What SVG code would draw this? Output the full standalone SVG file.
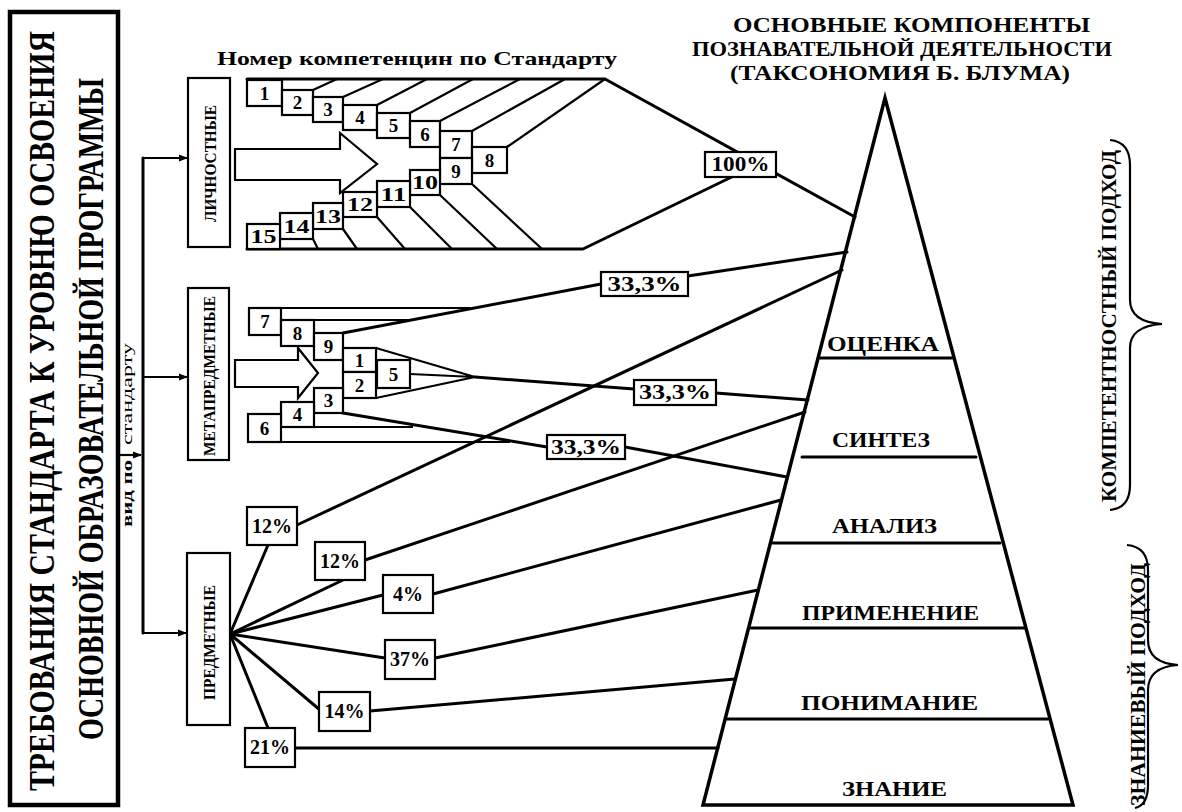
<svg xmlns="http://www.w3.org/2000/svg" width="1182" height="812" viewBox="0 0 1182 812">
<defs>
<marker id="ah" markerWidth="9" markerHeight="8" refX="8" refY="4" orient="auto" markerUnits="userSpaceOnUse"><path d="M0,0.5 L9,4 L0,7.5 z" fill="#000"/></marker>
<style>
.ln{stroke:#000;stroke-width:3;fill:none;stroke-linecap:round;stroke-linejoin:round}
.ln2{stroke:#000;stroke-width:2.2;fill:none}
.bx{fill:#fff;stroke:#000;stroke-width:2.2}
.t{font-family:'Liberation Serif','Times New Roman',serif;font-weight:bold;fill:#000}
.num{font-size:19px;text-anchor:middle}
.pct{font-size:20px;text-anchor:middle}
.lvl{font-size:20px}
</style>
</defs>
<rect width="1182" height="812" fill="#fff"/>

<g id="connectors">
  <path class="ln2" d="M120,455 H141" marker-end="url(#ah)"/>
  <path class="ln" d="M143,158 V633"/>
  <path class="ln2" d="M143,158 H187" marker-end="url(#ah)"/>
  <path class="ln2" d="M143,377 H187" marker-end="url(#ah)"/>
  <path class="ln2" d="M143,633 H186" marker-end="url(#ah)"/>

  <path class="ln" d="M247,79 H605 L855,217"/>
  <path class="ln" d="M247,249 H583 L742,172"/>
  <path class="ln2" d="M313,90 L337,79 M343,97 L383,79 M377,105 L427,79 M410,113 L473,79 M440,121 L520,79 M472,131 L565,79 M507,147 L605,79"/>
  <path class="ln2" d="M313,239 L318,249 M343,229 L357,249 M377,217 L405,249 M410,207 L452,249 M440,195 L497,249 M472,184 L542,249"/>

  <path class="ln2" d="M249,308 H470"/>
  <path class="ln2" d="M314,320 H413"/>
  <path class="ln2" d="M314,427 H413"/>
  <path class="ln2" d="M248,442 H510"/>
  <path class="ln" d="M343,333 L601,284 L688,276 L847,252"/>
  <path class="ln" d="M343,413 L547,447 L625,447 L787,477"/>
  <path class="ln2" d="M376,348 L475,377 L376,398 M410,374 L475,377"/>
  <path class="ln" d="M475,377 L634,389 L716,393 L808,400"/>

  <path class="ln" d="M230,634 L268,545 M297,525 L842,270"/>
  <path class="ln" d="M230,634 L343,580 M365,560 L805,412"/>
  <path class="ln" d="M230,634 L383,595 M433,594 L781,500"/>
  <path class="ln" d="M230,634 L385,658 M435,658 L758,590"/>
  <path class="ln" d="M230,634 L320,710 M370,711 L735,679"/>
  <path class="ln" d="M230,634 L268,728 M295,748 L718,748"/>

  <path class="ln2" d="M1110,140 Q1130,142 1130,165 L1130,300 Q1130,322 1162,324 Q1130,326 1130,348 L1130,485 Q1130,508 1110,510"/>
  <path class="ln2" d="M1127,545 Q1148,547 1148,570 L1148,640 Q1148,663 1178,665 Q1148,667 1148,690 L1148,785 Q1148,805 1135,808"/>
</g>

<g id="req">
  <rect x="10" y="12" width="108" height="793" fill="#fff" stroke="#000" stroke-width="4.5"/>
  <text class="t" font-size="30" transform="translate(54,791) rotate(-90) scale(1,1.2)" textLength="760" lengthAdjust="spacingAndGlyphs">ТРЕБОВАНИЯ СТАНДАРТА К УРОВНЮ ОСВОЕНИЯ</text>
  <text class="t" font-size="30" transform="translate(103,740) rotate(-90) scale(1,1.2)" textLength="662" lengthAdjust="spacingAndGlyphs">ОСНОВНОЙ ОБРАЗОВАТЕЛЬНОЙ ПРОГРАММЫ</text>
</g>

<g id="vid">
  <text class="t" font-size="14" transform="translate(132,527) rotate(-90)" textLength="67" lengthAdjust="spacingAndGlyphs">вид по</text>
  <text class="t" font-size="14" style="font-weight:normal" transform="translate(132,445) rotate(-90)" textLength="102" lengthAdjust="spacingAndGlyphs">стандарту</text>
</g>

<g id="lichn">
  <rect class="bx" x="188" y="78" width="42" height="169"/>
  <text class="t" font-size="17" transform="translate(216,222) rotate(-90)" textLength="117" lengthAdjust="spacingAndGlyphs">ЛИЧНОСТНЫЕ</text>
</g>
<g id="meta">
  <rect class="bx" x="188" y="288" width="41" height="172"/>
  <text class="t" font-size="17" transform="translate(215,456) rotate(-90)" textLength="160" lengthAdjust="spacingAndGlyphs">МЕТАПРЕДМЕТНЫЕ</text>
</g>
<g id="predm">
  <rect class="bx" x="187" y="553" width="43" height="172"/>
  <text class="t" font-size="17" transform="translate(215,700) rotate(-90)" textLength="115" lengthAdjust="spacingAndGlyphs">ПРЕДМЕТНЫЕ</text>
</g>

<text class="t" font-size="19" x="217" y="65" textLength="400" lengthAdjust="spacingAndGlyphs">Номер компетенцин по Стандарту</text>

<g id="lichn-arrow">
  <polygon class="bx" points="235,149 340,149 340,133 377,164 340,193 340,180 235,180"/>
</g>
<g id="lichn-items">
  <rect class="bx" x="247" y="80" width="35" height="26"/><text class="t num" x="264.5" y="100">1</text>
  <rect class="bx" x="282" y="90" width="31" height="25"/><text class="t num" x="297.5" y="109">2</text>
  <rect class="bx" x="313" y="97" width="30" height="25"/><text class="t num" x="328" y="116">3</text>
  <rect class="bx" x="343" y="105" width="34" height="25"/><text class="t num" x="360" y="124">4</text>
  <rect class="bx" x="377" y="113" width="33" height="25"/><text class="t num" x="393.5" y="132">5</text>
  <rect class="bx" x="410" y="121" width="30" height="26"/><text class="t num" x="425" y="141">6</text>
  <rect class="bx" x="440" y="131" width="32" height="27"/><text class="t num" x="456" y="151">7</text>
  <rect class="bx" x="472" y="147" width="35" height="26"/><text class="t num" x="489.5" y="167">8</text>
  <rect class="bx" x="440" y="158" width="32" height="26"/><text class="t num" x="456" y="178">9</text>
  <rect class="bx" x="410" y="170" width="30" height="25"/><text class="t num" x="425" y="189" textLength="26" lengthAdjust="spacingAndGlyphs">10</text>
  <rect class="bx" x="377" y="181" width="33" height="26"/><text class="t num" x="393.5" y="201" textLength="26" lengthAdjust="spacingAndGlyphs">11</text>
  <rect class="bx" x="343" y="192" width="34" height="25"/><text class="t num" x="360" y="211" textLength="26" lengthAdjust="spacingAndGlyphs">12</text>
  <rect class="bx" x="313" y="203" width="30" height="26"/><text class="t num" x="328" y="223" textLength="26" lengthAdjust="spacingAndGlyphs">13</text>
  <rect class="bx" x="280" y="213" width="33" height="26"/><text class="t num" x="296.5" y="233" textLength="26" lengthAdjust="spacingAndGlyphs">14</text>
  <rect class="bx" x="247" y="224" width="33" height="25"/><text class="t num" x="263.5" y="243" textLength="26" lengthAdjust="spacingAndGlyphs">15</text>
</g>

<g id="meta-arrow">
  <polygon class="bx" points="235,360 298,360 298,348 318,373 298,398 298,387 235,387"/>
</g>
<g id="meta-items">
  <rect class="bx" x="249" y="308" width="32" height="27"/><text class="t num" x="265" y="328">7</text>
  <rect class="bx" x="281" y="320" width="33" height="26"/><text class="t num" x="297.5" y="340">8</text>
  <rect class="bx" x="314" y="333" width="29" height="27"/><text class="t num" x="328.5" y="353">9</text>
  <rect class="bx" x="343" y="348" width="33" height="24"/><text class="t num" x="359.5" y="367">1</text>
  <rect class="bx" x="343" y="372" width="33" height="26"/><text class="t num" x="359.5" y="392">2</text>
  <rect class="bx" x="377" y="360" width="33" height="28"/><text class="t num" x="393.5" y="381">5</text>
  <rect class="bx" x="314" y="388" width="29" height="25"/><text class="t num" x="328.5" y="407">3</text>
  <rect class="bx" x="281" y="402" width="33" height="25"/><text class="t num" x="297.5" y="421">4</text>
  <rect class="bx" x="248" y="414" width="33" height="28"/><text class="t num" x="264.5" y="435">6</text>
</g>

<g id="pcts">
  <rect class="bx" x="705" y="152" width="71" height="25"/><text class="t pct" x="740.5" y="171" textLength="58" lengthAdjust="spacingAndGlyphs">100%</text>
  <rect class="bx" x="601" y="272" width="87" height="24"/><text class="t pct" x="644.5" y="291" textLength="74" lengthAdjust="spacingAndGlyphs">33,3%</text>
  <rect class="bx" x="634" y="380" width="82" height="25"/><text class="t pct" x="675" y="399" textLength="72" lengthAdjust="spacingAndGlyphs">33,3%</text>
  <rect class="bx" x="547" y="435" width="78" height="24"/><text class="t pct" x="586" y="454" textLength="70" lengthAdjust="spacingAndGlyphs">33,3%</text>
  <rect class="bx" x="247" y="507" width="50" height="38"/><text class="t pct" x="272" y="533">12%</text>
  <rect class="bx" x="315" y="542" width="50" height="38"/><text class="t pct" x="340" y="568">12%</text>
  <rect class="bx" x="383" y="575" width="50" height="38"/><text class="t pct" x="408" y="601">4%</text>
  <rect class="bx" x="385" y="640" width="50" height="39"/><text class="t pct" x="410" y="666">37%</text>
  <rect class="bx" x="319" y="692" width="51" height="39"/><text class="t pct" x="344.5" y="718">14%</text>
  <rect class="bx" x="245" y="728" width="50" height="39"/><text class="t pct" x="270" y="754">21%</text>
</g>

<g id="title">
  <text class="t" font-size="21" x="733" y="32" textLength="357" lengthAdjust="spacingAndGlyphs">ОСНОВНЫЕ КОМПОНЕНТЫ</text>
  <text class="t" font-size="21" x="692" y="56" textLength="420" lengthAdjust="spacingAndGlyphs">ПОЗНАВАТЕЛЬНОЙ ДЕЯТЕЛЬНОСТИ</text>
  <text class="t" font-size="21" x="730" y="80" textLength="340" lengthAdjust="spacingAndGlyphs">(ТАКСОНОМИЯ Б. БЛУМА)</text>
</g>

<g id="pyramid">
  <polygon points="885,98 703,805 1073,805" fill="none" stroke="#000" stroke-width="3.5" stroke-linejoin="miter"/>
  <path class="ln" d="M820,358 H952 M802,457 H976 M773,543 H1000 M751,628 H1025 M727,719 H1048"/>
  <text class="t lvl" x="827" y="351" textLength="112" lengthAdjust="spacingAndGlyphs">ОЦЕНКА</text>
  <text class="t lvl" x="832" y="447" textLength="98" lengthAdjust="spacingAndGlyphs">СИНТЕЗ</text>
  <text class="t lvl" x="832" y="533" textLength="105" lengthAdjust="spacingAndGlyphs">АНАЛИЗ</text>
  <text class="t lvl" x="802" y="620" textLength="177" lengthAdjust="spacingAndGlyphs">ПРИМЕНЕНИЕ</text>
  <text class="t lvl" x="801" y="710" textLength="177" lengthAdjust="spacingAndGlyphs">ПОНИМАНИЕ</text>
  <text class="t lvl" x="842" y="796" textLength="105" lengthAdjust="spacingAndGlyphs">ЗНАНИЕ</text>
</g>

<g id="approach">
  <text class="t" font-size="20" transform="translate(1116,502) rotate(-90)" textLength="352" lengthAdjust="spacingAndGlyphs">КОМПЕТЕНТНОСТНЫЙ ПОДХОД</text>
  <text class="t" font-size="20" transform="translate(1145,806) rotate(-90)" textLength="243" lengthAdjust="spacingAndGlyphs">ЗНАНИЕВЫЙ ПОДХОД</text>
</g>
</svg>
